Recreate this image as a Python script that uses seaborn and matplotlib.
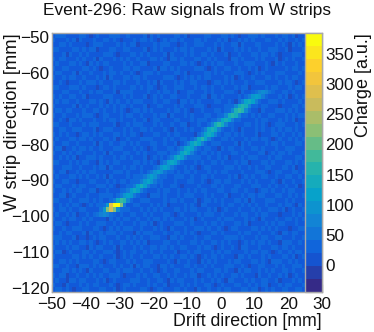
import numpy as np
import matplotlib
matplotlib.use("Agg")
import matplotlib.pyplot as plt
from matplotlib.cm import ScalarMappable
from matplotlib.colors import LinearSegmentedColormap, Normalize
from matplotlib.ticker import FixedLocator
import seaborn as sns

TITLE = "Event-296: Raw signals from W strips"
XLABEL = "Drift direction [mm]"
YLABEL = "W strip direction [mm]"
CLABEL = "Charge [a.u.]"
x_ticks = [-50, -40, -30, -20, -10, 0, 10, 20, 30]
y_ticks = [-50, -60, -70, -80, -90, -100, -110, -120]
c_ticks = [0, 50, 100, 150, 200, 250, 300, 350]
x_range = (-50, 30)
y_range = (-121, -49)
c_range = (-45, 385)

# background charge class per cell, bottom row first
background_rows = [
 "233232122332223322312322223321233222332322132232232332223323312323223322332",
 "322132223232332223212332322232322312223232322332123222332232323312232332223",
 "232213323322232312322223332232233213233222323223232133222323223322312223232",
 "323312232232323223332122232322332232322323312232323223323222132232232312322",
 "222332323213222332232333223223212322332223233222332322132332232323223323223",
 "332232213332323222323223132332213323222332322323222333223212233222323223332",
 "223323232222332123322232322333222232132232213232322232332223323213332232322",
 "322222332323223222312323223222332323223323212323323222133232223232223323123",
 "233123222332322333212323322323223222312232332223232332222323323321232232332",
 "322232332213233222313222323223323323223322232332123223213322232223323323222",
 "232323223323212323223323232312222332232223323223323232212323233232213332232",
 "333222312212323322232232323223332213323222322332222333323222323322332223223",
 "223233222313223233323222132333222322332323212223323222232332232223213323322",
 "322322333222332123232333223222323213222322333232232123322223323232322212233",
 "233212223232233322323222323323123222333223222323323222332312222323233222322",
 "322323322323222213232332232232332323222323123222232333222323213222322332323",
 "232232312232333222323223322323222332123222232333223222323322323322212223232",
 "323323223322222312322332223232323222332323322232312322232223232233323123223",
 "223232332123233222333222332223232312222323213322223233223232322322232332132",
 "332223223332323223212323223332222323323222312332323222332313222333222323222",
 "223312322232223333232232322213332322232333222323222312223233233222332232323",
 "322323233223312232223323233222232332232232323322233223322322123323223233222",
 "233222323322233323212232222332323223321222232223323222332223332232322322312",
 "322332212223322232323323323222333222322233223212332332223232322223213223223",
 "232223323232232313222232332322232322333223223323222232312323223322322332232",
 "323312232323322222333232223213223223232332322232323322223222333212332223323",
 "222333223222323313222323323222332332222323212332222333232232322332223323122",
 "332223232332213232332222332323212323233222323223323222323312223323222332323",
 "223232312233323222323323222312323222323223332232232312223233322232332222332",
 "322323233222322313222332232322233323212332223323232223322322233123233232223",
 "233122323323223222333222323212322233223323222332213233223223323222322333222",
 "322332232222313223223323232223322322312232323223332222313232222323323222332",
 "232223323323222332312232223333222323223323223212223323222323323321232232323",
 "323232212332323222332323321222332232332222123323222332323222312223323223232",
 "223322333222312333222323223323222321322323222333223223213222323223232332322",
 "332223222323332222312232333222323223223312232222332323222332323212333222323",
 "223213323222322323323222322312332222332223233323212323332222323322232323122",
 "322322232333212332223233223222323313222323222332233222313323232233222323233",
 "233233222322332322323212332323222232332321223222332323222332213222333232322",
 "322222313232223232323323222312233222323222333212222333232223323322212223323",
 "232332232223323213232232333222322332213323232222332232123322232233323222232",
 "323223322312222333222323222312323223322232223313323222232333222322232312323",
 "222332223223233222313333222232232332312233222323222333213223233232223323222",
 "332223332322212332322223323233212322333222323323223222323312222323322232332",
 "223212223233323222332322232232313222323223322212332323222322333222232332123",
 "322323322322232313222332332322222333212323232332222323123223222332322323322",
 "233222313223222323323223212333232222332312222332323222333212323222333222232",
 "322332222332321223222332332222313323232222333212322332232232312322222323323",
 "232223323213232332222323223312222332223323212323233222322333222321323222322",
 "323322232322313222323232232223323213323222332232322213323222323222312323223",
 "222313223232222333212223323232222313222323223323222312232223323323212223332",
 "332222332323312223322332222312323222323323222232313222323232232233322312223",
 "223323222212333222232323312222323332212322333222323223313222332222323213232",
 "322232313222322332321222323323212323323222332322232312232323222332232322323",
 "233322223321232223332232222313232222332312222332223323212233323222323323122",
]
background_charge = {"1": -8, "2": 7, "3": 26, "4": 40}

# hand-read track: row index, first column, charge across seven columns
track_rows = list(range(16, 43))
track_first_col = [12, 14, 15, 17, 19, 21, 23, 25, 26, 28, 30, 32, 34, 36, 37, 39, 41, 43, 44, 46, 48, 50, 52, 53, 55, 57, 59]
track_charge = [
 [ 28,  40,  60,  75,  60,  35,  20],
 [ 40,  95, 220, 280, 220,  80,  30],
 [ 35, 100, 300, 385, 385, 220,  55],
 [ 30,  55, 130, 175, 155,  70,  30],
 [ 30,  50,  90, 115, 100,  50,  25],
 [ 30,  55, 105, 130, 105,  55,  25],
 [ 30,  55, 115, 140, 110,  55,  25],
 [ 30,  55,  95, 120,  95,  50,  25],
 [ 30,  50,  85, 110,  85,  45,  25],
 [ 30,  50,  85, 105,  85,  45,  25],
 [ 30,  50,  90, 115,  90,  50,  25],
 [ 30,  55, 105, 125, 105,  55,  25],
 [ 30,  55, 110, 135, 110,  55,  25],
 [ 30,  55, 115, 140, 115,  60,  25],
 [ 30,  55, 110, 125, 110,  55,  25],
 [ 30,  60, 115, 140, 115,  60,  25],
 [ 30,  60, 125, 155, 120,  60,  25],
 [ 30,  60, 115, 135, 115,  60,  25],
 [ 30,  60, 125, 145, 125,  60,  25],
 [ 30,  65, 135, 165, 135,  65,  25],
 [ 30,  60, 120, 140, 120,  60,  25],
 [ 30,  70, 140, 160, 140,  70,  25],
 [ 30,  75, 150, 175, 155,  75,  30],
 [ 30,  70, 135, 155, 140,  70,  25],
 [ 30,  65, 120, 135, 115,  60,  25],
 [ 30,  55,  95, 110,  95,  55,  25],
 [ 25,  40,  65,  80,  65,  40,  25],
]

# ROOT kBird palette stops
bird_red = [0.2082, 0.0592, 0.0780, 0.0232, 0.1802, 0.5301, 0.8186, 0.9956, 0.9764]
bird_green = [0.1664, 0.3599, 0.5041, 0.6419, 0.7178, 0.7492, 0.7328, 0.7862, 0.9832]
bird_blue = [0.5293, 0.8684, 0.8385, 0.7914, 0.6425, 0.4662, 0.3499, 0.1968, 0.0539]

W, H = 374, 332
FONT = ["Liberation Sans", "DejaVu Sans"]
sns.set_theme(style="white")
plt.rcParams["font.family"] = FONT

charge = np.array([[background_charge[ch] for ch in row] for row in background_rows], float)
for r, c0, vals in zip(track_rows, track_first_col, track_charge):
    charge[r, c0:c0 + len(vals)] = vals

n_rows, n_cols = charge.shape
row_mm = (y_range[1] - y_range[0]) / n_rows
x_pos = lambda v: np.asarray(v, float) - x_range[0]
y_pos = lambda v: (np.asarray(v, float) - y_range[0]) / row_mm

bird_stops = list(zip(bird_red, bird_green, bird_blue))
cmap_smooth = LinearSegmentedColormap.from_list("bird", bird_stops, N=255)
cmap_bands = LinearSegmentedColormap.from_list("bird20", bird_stops, N=20)

fig = plt.figure(figsize=(W / 100, H / 100), dpi=100, facecolor="white")
L, R, T, B = 52, 322, 33, 292
ax = fig.add_axes([L / W, 1 - B / H, (R - L) / W, (B - T) / H])
cb_left = 305
cax = fig.add_axes([cb_left / W, 1 - B / H, (R - cb_left) / W, (B - T) / H])

sns.heatmap(charge, ax=ax, cbar=False, cmap=cmap_smooth, vmin=c_range[0], vmax=c_range[1],
            linewidths=0, xticklabels=False, yticklabels=False)
ax.set_xlim(0, x_range[1] - x_range[0])
ax.set_ylim(0, (y_range[1] - y_range[0]) / row_mm)

tick_size = 12.3
edge = "#a8a8a8"
ink = "#111111"
for s in ax.spines.values():
    s.set_visible(True)
    s.set_color(edge)
    s.set_linewidth(1)

ax.set_xticks(x_pos(x_ticks))
ax.set_xticklabels([f"{v}".replace("-", "\u2212") for v in x_ticks], fontsize=tick_size, color=ink, rotation=0)
ax.set_yticks(y_pos(y_ticks))
ax.set_yticklabels([f"{v}".replace("-", "\u2212") for v in y_ticks], fontsize=tick_size, color=ink, rotation=0)
ax.xaxis.set_minor_locator(FixedLocator(x_pos(np.arange(x_range[0], x_range[1], 2))))
ax.yaxis.set_minor_locator(FixedLocator(y_pos(np.arange(-120, -48, 2))))
ax.tick_params(axis="x", which="major", direction="in", bottom=True, top=False, length=5.5, width=0.8, color=ink, pad=3.5)
ax.tick_params(axis="x", which="minor", direction="in", bottom=True, top=False, length=2.8, width=0.7, color=ink)
ax.tick_params(axis="y", which="major", direction="in", left=True, right=False, length=6, width=0.8, color=ink, pad=2)
ax.tick_params(axis="y", which="minor", direction="in", left=True, right=False, length=3, width=0.7, color=ink)

cb = fig.colorbar(ScalarMappable(Normalize(*c_range), cmap_bands), cax=cax, ticks=c_ticks)
cb.outline.set_edgecolor(edge)
cb.outline.set_linewidth(1)
cax.yaxis.set_ticks_position("right")
cax.tick_params(axis="y", which="major", direction="in", length=6.5, width=0.8, color="#222222", pad=2.5,
                labelsize=tick_size, labelcolor=ink)
cax.set_yticklabels([str(v) for v in c_ticks])
cax.tick_params(axis="y", which="minor", length=0)

fig.text(187 / W, 1 - 10 / H, TITLE, ha="center", va="center", fontsize=12.4, color=ink)
fig.text(322 / W, 1 - 321 / H, XLABEL, ha="right", va="center", fontsize=12.8, color=ink)
fig.text(13 / W, 1 - 33 / H, YLABEL, ha="center", va="top", rotation=90, fontsize=13.2, color=ink)
fig.text(363 / W, 1 - 33 / H, CLABEL, ha="center", va="top", rotation=90, fontsize=13, color=ink)

fig.savefig("out.png", dpi=100)
